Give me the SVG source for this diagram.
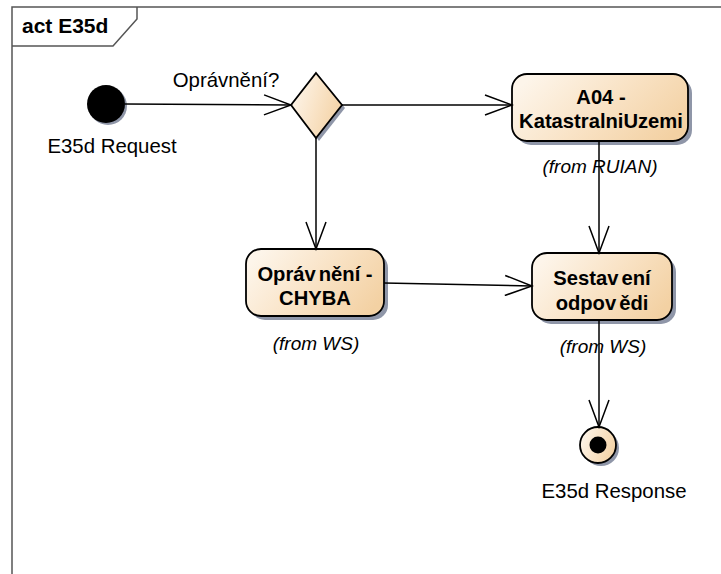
<svg xmlns="http://www.w3.org/2000/svg" width="721" height="574" viewBox="0 0 721 574">
<defs>
<linearGradient id="fill" x1="0" y1="0.3" x2="1" y2="0.7">
<stop offset="0" stop-color="#fdf5ea"/>
<stop offset="0.5" stop-color="#f9e3c6"/>
<stop offset="1" stop-color="#f3d1a3"/>
</linearGradient>
<marker id="arr" viewBox="0 0 30 22" refX="28" refY="11" markerWidth="30" markerHeight="22" markerUnits="userSpaceOnUse" orient="auto">
<path d="M1,1 L28,11 L1,21" fill="none" stroke="#000" stroke-width="1.5"/>
</marker>
</defs>
<style>
text{font-family:"Liberation Sans",Arial,sans-serif;font-size:20.4px;fill:#000}
.b{font-weight:bold;font-size:20.2px}
.i{font-style:italic;font-size:19px}
.t{font-weight:bold;font-size:21px}
.c{text-anchor:middle}
.node{fill:url(#fill);stroke:#000;stroke-width:1.8}
.sh{fill:#8f96a8}
.edge{fill:none;stroke:#000;stroke-width:1.5;marker-end:url(#arr)}
.frame{fill:none;stroke:#555;stroke-width:1.5}
</style>
<rect width="721" height="574" fill="#fff"/>
<g id="frame">
<path class="frame" d="M12,574 L12,7 L721,7"/>
<path class="frame" d="M137,7 L137,19 L113,46 L12,46"/>
<text x="22" y="33" class="t">act E35d</text>
</g>
<g id="start">
<circle cx="108" cy="106" r="19" class="sh"/>
<circle cx="106" cy="104" r="19" fill="#000"/>
<text x="112" y="153" class="c">E35d Request</text>
</g>
<g id="decision">
<path d="M319,76 L345,108 L319,141 L294,108 Z" class="sh"/>
<path d="M316,73 L342,105 L316,138 L291,105 Z" class="node"/>
</g>
<g id="a04">
<rect x="516" y="78" width="176" height="67" rx="15" class="sh"/>
<rect x="512" y="74" width="176" height="67" rx="15" class="node"/>
<text x="601" y="104" class="b c">A04 -</text>
<text x="601" y="128" class="b c">KatastralniUzemi</text>
<text x="600" y="173" class="i c">(from RUIAN)</text>
</g>
<g id="chyba">
<rect x="250" y="253" width="138" height="67" rx="15" class="sh"/>
<rect x="246" y="249" width="138" height="67" rx="15" class="node"/>
<text x="315" y="281" class="b c">Opráv<tspan dx="3">nění -</tspan></text>
<text x="315" y="305" class="b c">CHYBA</text>
<text x="316" y="350" class="i c">(from WS)</text>
</g>
<g id="sestaveni">
<rect x="536" y="257" width="140" height="67" rx="15" class="sh"/>
<rect x="532" y="253" width="140" height="67" rx="15" class="node"/>
<text x="602" y="285" class="b c">Sestav<tspan dx="3">ení</tspan></text>
<text x="602" y="310" class="b c">odpov<tspan dx="3">ědi</tspan></text>
<text x="603" y="353" class="i c">(from WS)</text>
</g>
<g id="end">
<circle cx="601" cy="448" r="18" class="sh"/>
<circle cx="598" cy="445" r="18" class="node"/>
<circle cx="598" cy="445" r="8.5" fill="#000"/>
<text x="614" y="498" class="c">E35d Response</text>
</g>
<g id="connectors">
<path class="edge" d="M125,104 L291,105"/>
<text x="226" y="87" class="c">Oprávnění?</text>
<path class="edge" d="M342,105 L512,105"/>
<path class="edge" d="M316,138 L316,249"/>
<path class="edge" d="M599,141 L599,253"/>
<path class="edge" d="M384,283 L532,286"/>
<path class="edge" d="M599,320 L599,427"/>
</g>
</svg>
